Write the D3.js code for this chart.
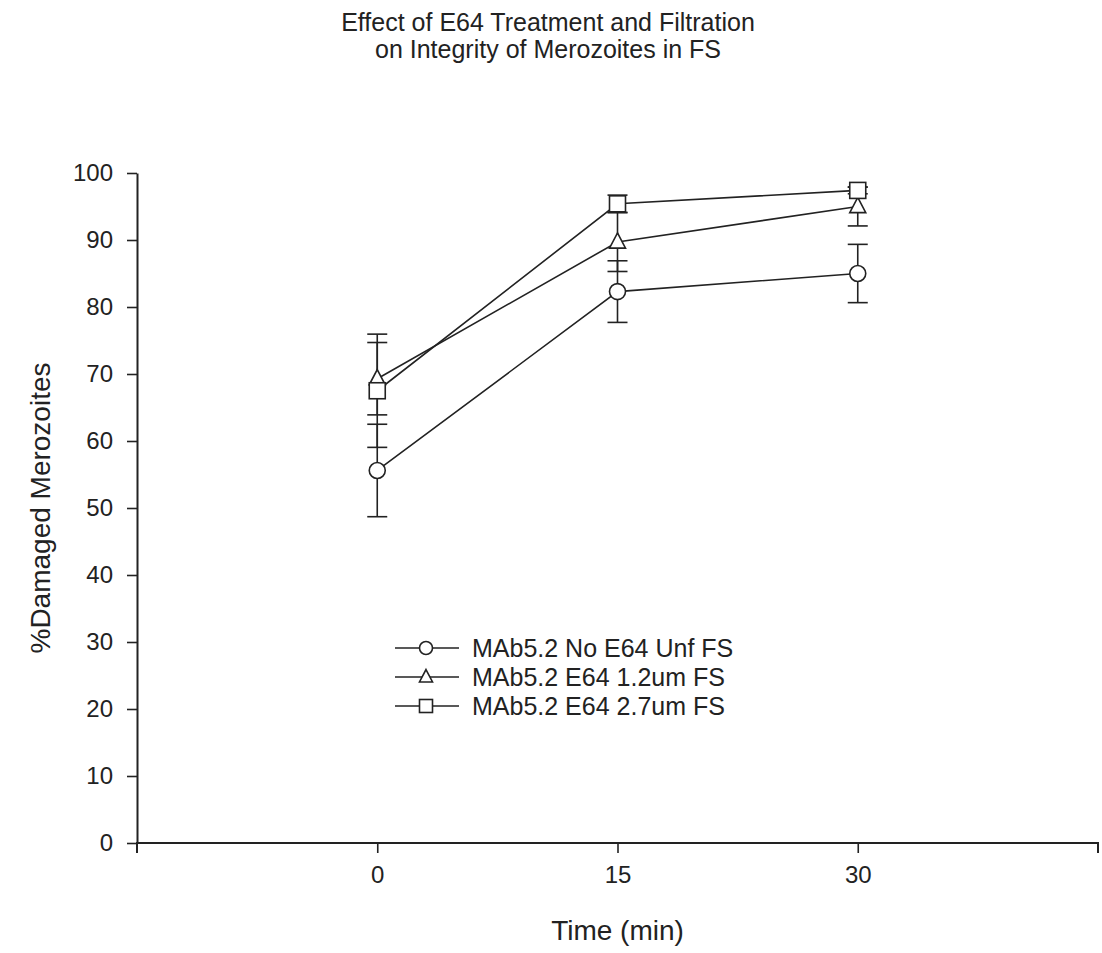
<!DOCTYPE html>
<html>
<head>
<meta charset="utf-8">
<script src="https://cdn.jsdelivr.net/npm/d3@7"></script>
<style>
  body { margin: 0; background: #fff; }
  text { font-family: Arial, "Liberation Sans", sans-serif; fill: #222; }
</style>
</head>
<body>
<div class="canvas"></div>
<script>
const times = [0, 15, 30];
const xTicks = [0, 15, 30];
const yTicks = [0, 10, 20, 30, 40, 50, 60, 70, 80, 90, 100];

const noE64Unf = [55.6, 82.3, 85.0];
const noE64UnfErr = [6.9, 4.6, 4.35];
const e64Filt12 = [69.3, 89.7, 95.0];
const e64Filt12Err = [5.4, 4.4, 2.9];
const e64Filt27 = [67.5, 95.4, 97.4];
const e64Filt27Err = [8.45, 1.3, 0.5];

const seriesNames = ['MAb5.2 No E64 Unf FS', 'MAb5.2 E64 1.2um FS', 'MAb5.2 E64 2.7um FS'];
const seriesShapes = ['circle', 'triangle', 'square'];

const series = [
  { name: seriesNames[0], shape: seriesShapes[0], values: noE64Unf, err: noE64UnfErr },
  { name: seriesNames[1], shape: seriesShapes[1], values: e64Filt12, err: e64Filt12Err },
  { name: seriesNames[2], shape: seriesShapes[2], values: e64Filt27, err: e64Filt27Err },
];

const INK = '#222';
const width = 1102;
const height = 953;

const svg = d3
  .select('.canvas')
  .append('svg')
  .attr('width', width)
  .attr('height', height);

const x = d3.scaleLinear().domain([-15, 45]).range([137, 1098]);
const y = d3.scaleLinear().domain([0, 100]).range([843, 173]);

// title
svg.append('text')
  .attr('x', 548).attr('y', 31)
  .attr('text-anchor', 'middle')
  .style('font-size', '25px')
  .text('Effect of E64 Treatment and Filtration');
svg.append('text')
  .attr('x', 548).attr('y', 58)
  .attr('text-anchor', 'middle')
  .style('font-size', '25px')
  .text('on Integrity of Merozoites in FS');

// axes
const xAxis = svg.append('g')
  .attr('transform', `translate(0,${y(0)})`)
  .call(d3.axisBottom(x).tickValues(xTicks).tickSize(10).tickSizeOuter(10).tickPadding(13));
const yAxis = svg.append('g')
  .attr('transform', `translate(${x(-15)},0)`)
  .call(d3.axisLeft(y).tickValues(yTicks).tickSize(10).tickSizeOuter(0).tickPadding(14));

[xAxis, yAxis].forEach(ax => {
  ax.select('.domain').attr('stroke', INK).attr('stroke-width', 2);
  ax.selectAll('.tick line').attr('stroke', INK).attr('stroke-width', 1.6);
  ax.selectAll('.tick text')
    .style('font-size', '24px')
    .style('font-family', 'Arial, "Liberation Sans", sans-serif')
    .attr('fill', INK);
});
// outer end ticks on x axis
xAxis.select('.domain').attr('d', `M${x(-15)},10V0H${x(45)}V10`);

// axis labels
svg.append('text')
  .attr('transform', `translate(50,${y(50)}) rotate(-90)`)
  .attr('text-anchor', 'middle')
  .style('font-size', '28px')
  .text('%Damaged Merozoites');
svg.append('text')
  .attr('x', x(15)).attr('y', 940)
  .attr('text-anchor', 'middle')
  .style('font-size', '28px')
  .text('Time (min)');

// symbols
const drawShape = (g, shape, cx, cy, s) => {
  if (shape === 'circle') {
    g.append('circle').attr('cx', cx).attr('cy', cy).attr('r', s);
  } else if (shape === 'square') {
    g.append('rect').attr('x', cx - s).attr('y', cy - s).attr('width', 2 * s).attr('height', 2 * s);
  } else {
    const h = s * 1.9;
    g.append('path').attr('d', `M${cx},${cy - h * 0.6}L${cx + s},${cy + h * 0.4}L${cx - s},${cy + h * 0.4}Z`);
  }
};

const plot = svg.append('g').attr('id', 'plot');
const line = d3.line().x((d, i) => x(times[i])).y(d => y(d));

series.forEach(s => {
  plot.append('path')
    .attr('d', line(s.values))
    .attr('fill', 'none')
    .attr('stroke', INK)
    .attr('stroke-width', 1.6);
});

series.forEach(s => {
  const g = plot.append('g');
  s.values.forEach((v, i) => {
    const cx = x(times[i]);
    const lo = y(v - s.err[i]);
    const hi = y(v + s.err[i]);
    g.append('line').attr('x1', cx).attr('x2', cx).attr('y1', lo).attr('y2', hi)
      .attr('stroke', INK).attr('stroke-width', 1.6);
    [lo, hi].forEach(yy => {
      g.append('line').attr('x1', cx - 10).attr('x2', cx + 10).attr('y1', yy).attr('y2', yy)
        .attr('stroke', INK).attr('stroke-width', 1.6);
    });
  });
});

series.forEach(s => {
  const g = plot.append('g')
    .attr('fill', '#fff')
    .attr('stroke', INK)
    .attr('stroke-width', 1.6);
  s.values.forEach((v, i) => drawShape(g, s.shape, x(times[i]), y(v), 8));
});

// legend
const legend = svg.append('g').attr('id', 'legend');
series.forEach((s, i) => {
  const ly = 648 + i * 29;
  const row = legend.append('g');
  row.append('line').attr('x1', 395).attr('x2', 459).attr('y1', ly).attr('y2', ly)
    .attr('stroke', INK).attr('stroke-width', 1.6);
  const sym = row.append('g').attr('fill', '#fff').attr('stroke', INK).attr('stroke-width', 1.6);
  drawShape(sym, s.shape, 426, ly, 6.5);
  row.append('text')
    .attr('x', 472).attr('y', ly + 9)
    .style('font-size', '25px')
    .text(s.name);
});
</script>
</body>
</html>
